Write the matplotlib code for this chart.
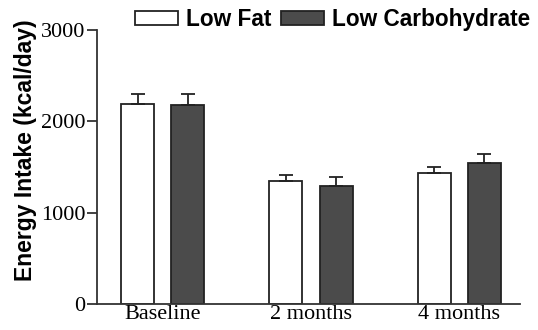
import numpy as np
import matplotlib.pyplot as plt
from matplotlib.patches import Patch

# values
groups = ['Baseline', '2 months', '4 months']
low_fat = [2190, 1345, 1430]
low_fat_err = [110, 70, 75]
low_carb = [2180, 1290, 1540]
low_carb_err = [120, 105, 100]
series_names = ['Low Fat', 'Low Carbohydrate']
yticks = [0, 1000, 2000, 3000]

fig = plt.figure(figsize=(5.38, 3.3), dpi=100)
ax = fig.add_axes([0.180, 0.079, 0.786, 0.830])

x = np.arange(len(groups))
w = 0.223
off = 0.169
edge = '#222222'
ekw = dict(elinewidth=1.3, capthick=1.3, ecolor=edge)

ax.bar(x - off, low_fat, w, color='white', edgecolor=edge, linewidth=1.3,
       yerr=[np.zeros(3), low_fat_err], capsize=5, error_kw=ekw)
ax.bar(x + off, low_carb, w, color='#4b4b4b', edgecolor=edge, linewidth=1.3,
       yerr=[np.zeros(3), low_carb_err], capsize=5, error_kw=ekw)

ax.set_xlim(-0.446, 2.409)
ax.set_ylim(0, 3000)
ax.set_xticks(x)
ax.set_xticklabels(groups, family='Liberation Serif', fontsize=16)
ax.set_yticks(yticks)
ax.set_yticklabels([str(t) for t in yticks], family='Liberation Serif', fontsize=16)
ax.tick_params(axis='x', length=0, pad=1)
ax.tick_params(axis='y', length=7, width=1.3, color='#333333', pad=1)
for s in ['top', 'right']:
    ax.spines[s].set_visible(False)
for s in ['left', 'bottom']:
    ax.spines[s].set_linewidth(1.3)
    ax.spines[s].set_color('#333333')

ax.set_ylabel('Energy Intake (kcal/day)', family='Liberation Sans',
              fontweight='bold', fontsize=16.5)
ax.yaxis.set_label_coords(-0.142, 0.56)

handles = [Patch(facecolor='white', edgecolor=edge, linewidth=1.3),
           Patch(facecolor='#4b4b4b', edgecolor=edge, linewidth=1.3)]
fig.legend(handles, series_names, loc='center left', bbox_to_anchor=(135 / 538, 1 - 19.5 / 330),
           ncol=2, frameon=False, handlelength=1.9, handleheight=0.6,
           handletextpad=0.36, columnspacing=0.4, borderaxespad=0, borderpad=0,
           prop=dict(family='Liberation Sans', weight='bold', size=16.3))

fig.savefig('out.png', dpi=100)
